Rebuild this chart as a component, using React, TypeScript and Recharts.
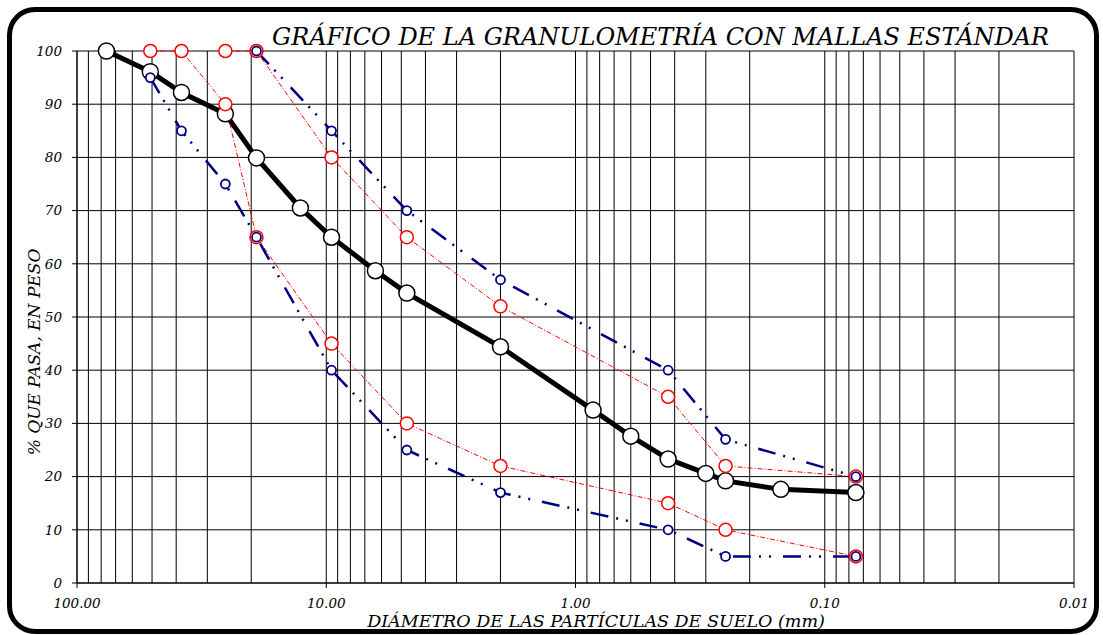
import { ComposedChart, Line, XAxis, YAxis, CartesianGrid, ReferenceLine } from 'recharts';

// sieve openings (mm) and % passing
const sampleSizes = [76.2, 50.8, 38.1, 25.4, 19.05, 12.7, 9.525, 6.35, 4.75, 2.0, 0.85, 0.6, 0.425, 0.3, 0.25, 0.15, 0.075];
const samplePass = [100, 96.1, 92.2, 88.2, 79.9, 70.5, 65.0, 58.7, 54.5, 44.4, 32.5, 27.6, 23.3, 20.6, 19.2, 17.6, 17.0];

const redLowSizes = [50.8, 38.1, 25.4, 19.05, 9.525, 4.75, 2.0, 0.425, 0.25, 0.075];
const redLowPass = [100, 100, 90, 65, 45, 30, 22, 15, 10, 5];

const redHighSizes = [25.4, 19.05, 9.525, 4.75, 2.0, 0.425, 0.25, 0.075];
const redHighPass = [100, 100, 80, 65, 52, 35, 22, 20];

const blueLowSizes = [50.8, 38.1, 25.4, 19.05, 9.525, 4.75, 2.0, 0.425, 0.25, 0.075];
const blueLowPass = [95, 85, 75, 65, 40, 25, 17, 10, 5, 5];

const blueHighSizes = [19.05, 9.525, 4.75, 2.0, 0.425, 0.25, 0.075];
const blueHighPass = [100, 85, 70, 57, 40, 27, 20];

const xTicks = [100, 10, 1, 0.1, 0.01];
const yTicks = [0, 10, 20, 30, 40, 50, 60, 70, 80, 90, 100];

const toRows = (sizes: number[], pass: number[]) => sizes.map((d, i) => ({ d, p: pass[i] }));

// log grid: 1..9 x 10^k between 0.01 and 100
const gridX: number[] = [];
[0.01, 0.1, 1, 10].forEach((base) => {
  for (let n = 1; n <= 9; n++) gridX.push(Number((n * base).toPrecision(3)));
});
gridX.push(100);

const font = '"DejaVu Serif", serif';

export default function App() {
  return (
    <div style={{ position: 'absolute', left: 0, top: 0, width: 1103, height: 635, background: '#fff', fontFamily: font }}>
      <div
        style={{
          position: 'absolute',
          left: 7,
          top: 7,
          width: 1092,
          height: 627,
          boxSizing: 'border-box',
          border: '5px solid #000',
          borderRadius: 28,
        }}
      />
      <div
        style={{
          position: 'absolute',
          left: 272,
          top: 20,
          fontSize: 24,
          fontStyle: 'italic',
          lineHeight: '34px',
          whiteSpace: 'nowrap',
        }}
      >
        GRÁFICO DE LA GRANULOMETRÍA CON MALLAS ESTÁNDAR
      </div>
      <div style={{ position: 'absolute', left: 0, top: 0 }}>
        <ComposedChart width={1103} height={635} margin={{ top: 51, right: 29, bottom: 22, left: 17 }}>
          <CartesianGrid vertical={false} stroke="#000" strokeWidth={1} />
          {gridX.map((v) => (
            <ReferenceLine key={v} x={v} stroke="#000" strokeWidth={1} ifOverflow="extendDomain" />
          ))}
          <XAxis
            type="number"
            dataKey="d"
            scale="log"
            domain={[0.01, 100]}
            reversed
            allowDataOverflow
            ticks={xTicks}
            tickFormatter={(v: number) => v.toFixed(2)}
            tick={{ fill: '#000', fontSize: 13.5, fontStyle: 'italic', fontFamily: font }}
            tickSize={5}
            tickMargin={10}
            axisLine={{ stroke: '#000' }}
            tickLine={{ stroke: '#000' }}
            height={30}
          />
          <YAxis
            type="number"
            domain={[0, 100]}
            ticks={yTicks}
            tick={{ fill: '#000', fontSize: 13.5, fontStyle: 'italic', fontFamily: font }}
            tickSize={5}
            tickMargin={10}
            axisLine={{ stroke: '#000' }}
            tickLine={{ stroke: '#000' }}
            width={60}
          />
          <Line
            data={toRows(sampleSizes, samplePass)}
            dataKey="p"
            type="linear"
            stroke="#000"
            strokeWidth={5}
            dot={{ r: 8, fill: '#fff', stroke: '#000', strokeWidth: 1.5 }}
            isAnimationActive={false}
          />
          <Line
            data={toRows(redLowSizes, redLowPass)}
            dataKey="p"
            type="linear"
            stroke="#ff0000"
            strokeWidth={1}
            strokeDasharray="5 2 1 2"
            dot={{ r: 6.5, fill: '#fff', stroke: '#ff0000', strokeWidth: 1.5, strokeDasharray: '' }}
            isAnimationActive={false}
          />
          <Line
            data={toRows(redHighSizes, redHighPass)}
            dataKey="p"
            type="linear"
            stroke="#ff0000"
            strokeWidth={1}
            strokeDasharray="5 2 1 2"
            dot={{ r: 6.5, fill: '#fff', stroke: '#ff0000', strokeWidth: 1.5, strokeDasharray: '' }}
            isAnimationActive={false}
          />
          <Line
            data={toRows(blueLowSizes, blueLowPass)}
            dataKey="p"
            type="linear"
            stroke="#000080"
            strokeWidth={2.5}
            strokeDasharray="18 8 2 8 2 12"
            dot={{ r: 4.5, fill: '#fff', stroke: '#000080', strokeWidth: 1.8, strokeDasharray: '' }}
            isAnimationActive={false}
          />
          <Line
            data={toRows(blueHighSizes, blueHighPass)}
            dataKey="p"
            type="linear"
            stroke="#000080"
            strokeWidth={2.5}
            strokeDasharray="18 8 2 8 2 12"
            dot={{ r: 4.5, fill: '#fff', stroke: '#000080', strokeWidth: 1.8, strokeDasharray: '' }}
            isAnimationActive={false}
          />
        </ComposedChart>
      </div>
      <div
        style={{
          position: 'absolute',
          left: 34,
          top: 352,
          transform: 'translate(-50%, -50%) rotate(-90deg)',
          fontSize: 17,
          fontStyle: 'italic',
          whiteSpace: 'nowrap',
          lineHeight: '20px',
        }}
      >
        % QUE PASA, EN PESO
      </div>
      <div
        style={{
          position: 'absolute',
          left: 596,
          top: 611,
          transform: 'translateX(-50%)',
          fontSize: 17.5,
          fontStyle: 'italic',
          whiteSpace: 'nowrap',
          lineHeight: '20px',
        }}
      >
        DIÁMETRO DE LAS PARTÍCULAS DE SUELO (mm)
      </div>
    </div>
  );
}
